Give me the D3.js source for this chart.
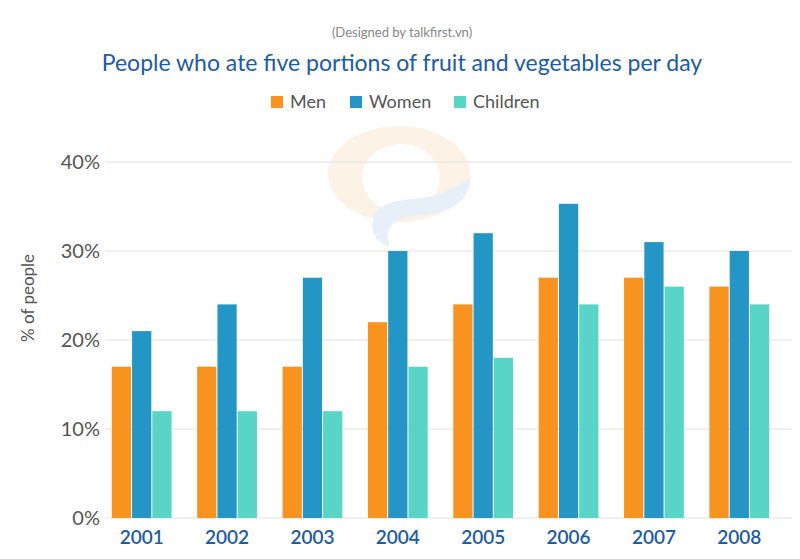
<!DOCTYPE html>
<html><head><meta charset="utf-8">
<script src="https://cdn.jsdelivr.net/npm/d3@7"></script>
<style>body{margin:0;background:#fff}svg{display:block}</style>
</head><body>
<script>
const years = ["2001","2002","2003","2004","2005","2006","2007","2008"];
const seriesNames = ["Men","Women","Children"];
const men = [17, 17, 17, 22, 24, 27, 27, 26];
const women = [21, 24, 27, 30, 32, 35.3, 31, 30];
const children = [12, 12, 12, 17, 18, 24, 26, 24];
const yTicks = [0, 10, 20, 30, 40];
const colors = ["#F7931E", "#2396C6", "#58D5C7"];

const W = 800, H = 559;
const svg = d3.select("body").append("svg").attr("width", W).attr("height", H)
  .style("font-family", "Lato, 'Open Sans', sans-serif");

// watermark
const wm = svg.append("g");
wm.append("path")
  .attr("d", "M328,174 A71,48 0 1,0 470,174 A71,48 0 1,0 328,174 Z M362,178 A39,34 0 1,1 440,178 A39,34 0 1,1 362,178 Z")
  .attr("fill", "#fdf2e6").attr("fill-rule", "evenodd");
wm.append("path")
  .attr("d", "M471,176 C470,205 445,214 415,216 C395,218 382,228 390,247 C372,242 366,220 380,208 C396,196 428,202 448,190 C462,183 468,180 471,176 Z")
  .attr("fill", "#e7f0f8");

const x0 = d3.scaleBand().domain(years).range([99, 782]).paddingInner(0.3).paddingOuter(0.15);
const x1 = d3.scaleBand().domain(seriesNames).range([0, x0.bandwidth()]).paddingInner(0.05);
const y = d3.scaleLinear().domain([0, 40]).range([518, 162]);

// grid
svg.append("g").selectAll("line").data(yTicks).join("line")
  .attr("x1", 105).attr("x2", 792)
  .attr("y1", d => y(d)).attr("y2", d => y(d))
  .attr("stroke", "#e2e2e2").attr("stroke-width", 1);

// y tick labels
svg.append("g").selectAll("text").data(yTicks).join("text")
  .attr("x", 100).attr("y", d => y(d)).attr("dy", "0.35em")
  .attr("text-anchor", "end").attr("fill", "#555").attr("font-size", 20)
  .text(d => d + "%");

svg.append("text").attr("transform", "translate(34,298) rotate(-90)")
  .attr("text-anchor", "middle").attr("fill", "#555").attr("font-size", 17)
  .text("% of people");

// bars
const data = [men, women, children];
const groups = svg.append("g").selectAll("g").data(years).join("g")
  .attr("transform", d => `translate(${x0(d)},0)`);
groups.selectAll("rect").data((d, i) => seriesNames.map((s, j) => ({s, v: data[j][i], j})))
  .join("rect")
  .attr("x", d => x1(d.s)).attr("width", x1.bandwidth())
  .attr("y", d => y(d.v)).attr("height", d => y(0) - y(d.v))
  .attr("fill", d => colors[d.j]);

// x labels
svg.append("g").selectAll("text").data(years).join("text")
  .attr("x", d => x0(d) + x0.bandwidth() / 2).attr("y", 544)
  .attr("text-anchor", "middle").attr("fill", "#1C5BA6").attr("font-size", 19)
  .attr("font-weight", 600).text(d => d);

// title
svg.append("text").attr("x", 402).attr("y", 37).attr("text-anchor", "middle")
  .attr("fill", "#888").attr("font-size", 13).text("(Designed by talkfirst.vn)");
svg.append("text").attr("x", 402).attr("y", 71).attr("text-anchor", "middle")
  .attr("fill", "#1C5BA6").attr("font-size", 23).text("People who ate five portions of fruit and vegetables per day");

// legend
const legX = [271, 350, 454];
const leg = svg.append("g").selectAll("g").data(seriesNames).join("g")
  .attr("transform", (d, i) => `translate(${legX[i]},102)`);
leg.append("rect").attr("x", 0).attr("y", -6).attr("width", 12).attr("height", 12)
  .attr("fill", (d, i) => colors[i]);
leg.append("text").attr("x", 19).attr("y", 0).attr("dy", "0.35em")
  .attr("fill", "#555").attr("font-size", 18).text(d => d);
</script>
</body></html>
